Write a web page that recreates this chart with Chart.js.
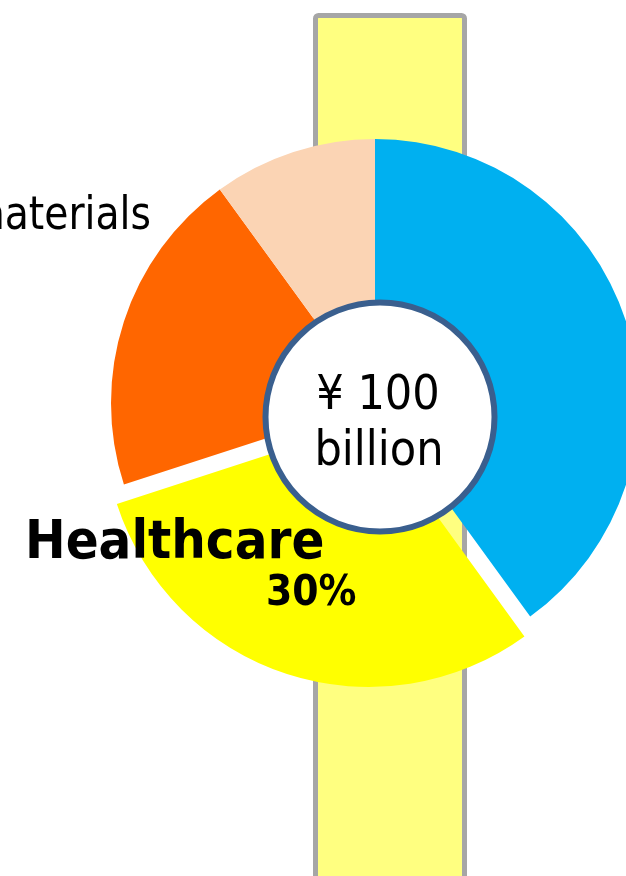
<!DOCTYPE html>
<html>
<head>
<meta charset="utf-8">
<script src="https://cdn.jsdelivr.net/npm/chart.js@4.4.1/dist/chart.umd.min.js"></script>
<style>
  html, body { margin: 0; padding: 0; background: #fff; overflow: hidden; }
  #pie { display: block; }
</style>
</head>
<body>
<canvas id="pie" width="750" height="876"></canvas>
<script>
// ==== Data ====
const segments = ['Other', 'Healthcare', 'Materials', 'Other 2'];
const shares = [40, 30, 20, 10];
const sliceColors = ['#00B0F0', '#FFFF00', '#FF6600', '#FBD4B4'];
const sliceOffsets = [0, 80, 0, 0];   // only healthcare is pulled out
const totalLabel = ['¥ 100', 'billion'];

// yellow column behind the pie
const backdrop = {
  id: 'backdrop',
  beforeDatasetsDraw(chart) {
    const ctx = chart.ctx;
    ctx.save();
    ctx.fillStyle = '#FFFF80';
    ctx.strokeStyle = '#A6A6A6';
    ctx.lineWidth = 5;
    ctx.beginPath();
    ctx.roundRect(315.5, 15.5, 149, 900, 3);
    ctx.fill();
    ctx.stroke();
    ctx.restore();
  }
};

// white hub with total + segment labels
const overlay = {
  id: 'overlay',
  afterDatasetsDraw(chart) {
    const ctx = chart.ctx;
    const arc = chart.getDatasetMeta(0).data[0];
    const cx = arc.x + 5, cy = arc.y + 14;

    ctx.save();
    ctx.beginPath();
    ctx.arc(cx, cy, 114.5, 0, Math.PI * 2);
    ctx.fillStyle = '#fff';
    ctx.fill();
    ctx.lineWidth = 6;
    ctx.strokeStyle = '#3A5F8E';
    ctx.stroke();

    ctx.fillStyle = '#000';
    ctx.textAlign = 'center';
    ctx.textBaseline = 'alphabetic';
    ctx.font = '48px "DejaVu Sans Condensed", "DejaVu Sans"';
    ctx.fillText(totalLabel[0], cx - 2, cy - 8);
    ctx.fillText(totalLabel[1], cx - 1, cy + 48);

    // healthcare
    ctx.textAlign = 'left';
    ctx.font = 'bold 54px "DejaVu Sans Condensed", "DejaVu Sans"';
    ctx.fillText(segments[1], 25, 558);
    ctx.font = 'bold 42px "DejaVu Sans Condensed", "DejaVu Sans"';
    ctx.fillText(shares[1] + '%', 266, 605);

    // materials (cut off at the left edge)
    ctx.translate(151, 229);
    ctx.scale(0.95, 1);
    ctx.textAlign = 'right';
    ctx.font = '46px "DejaVu Sans Condensed", "DejaVu Sans"';
    ctx.fillText(segments[2].toLowerCase(), 0, 0);
    ctx.restore();
  }
};

new Chart(document.getElementById('pie'), {
  type: 'pie',
  data: {
    labels: segments,
    datasets: [{
      data: shares,
      backgroundColor: sliceColors,
      offset: sliceOffsets,
      borderWidth: 0,
      radius: 264,
      clip: false
    }]
  },
  options: {
    responsive: false,
    animation: false,
    events: [],
    layout: { padding: { bottom: 70 } },
    plugins: {
      legend: { display: false },
      tooltip: { enabled: false }
    }
  },
  plugins: [backdrop, overlay]
});
</script>
</body>
</html>
